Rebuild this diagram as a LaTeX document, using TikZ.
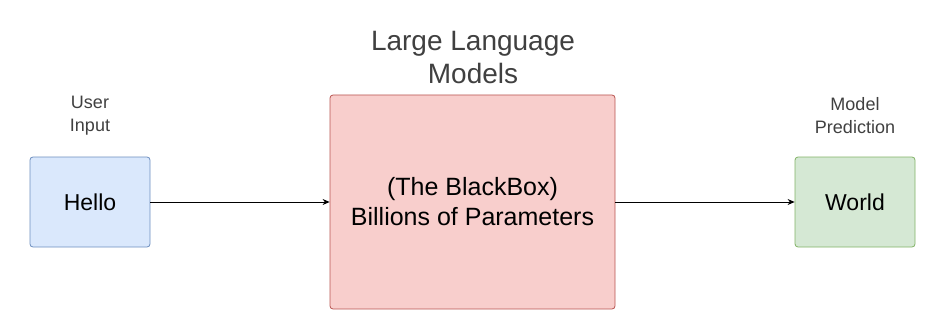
\documentclass[tikz,border=0pt]{standalone}
\usepackage{fontspec}
\setmainfont{Liberation Sans}
\usepackage{xcolor}
\usetikzlibrary{positioning,arrows.meta}
\definecolor{azulfill}{HTML}{DAE8FC}
\definecolor{azulline}{HTML}{6C8EBF}
\definecolor{rojofill}{HTML}{F8CECC}
\definecolor{rojoline}{HTML}{B85450}
\definecolor{verdefill}{HTML}{D5E8D4}
\definecolor{verdeline}{HTML}{82B366}
\definecolor{titulo}{HTML}{404040}

\begin{document}
\begin{tikzpicture}[x=1pt, y=1pt,
  caja/.style={draw, rectangle, rounded corners=3pt, line width=0.8pt, align=center, inner sep=0pt, font=\fontsize{23}{30}\selectfont},
  etiqueta/.style={align=center, text=titulo, font=\fontsize{18}{23}\selectfont},
  >={Stealth[length=7pt, width=6pt]}, line width=0.8pt
]
\useasboundingbox (0,0) rectangle (945,330);
\node[caja, fill=azulfill, draw=azulline, minimum width=120, minimum height=90]   (hola)   at (90,128)    {Hello};
\node[caja, fill=rojofill, draw=rojoline, minimum width=285, minimum height=214, font=\fontsize{25}{30}\selectfont]  (modelo) at (472.5,128) {(The BlackBox)\\Billions of Parameters};
\node[caja, fill=verdefill, draw=verdeline, minimum width=120, minimum height=90] (mundo)  at (855,128)   {World};
\node[etiqueta] (entrada)   at (90,214)  {User\\Input};
\node[etiqueta, font=\fontsize{28}{33}\selectfont] (titulo) at (473,272) {Large Language\\Models};
\node[etiqueta] (prediccion) at (855,214) {Model\\Prediction};

\draw[->] (hola) -- (modelo);
\draw[->] (modelo) -- (mundo);
\end{tikzpicture}
\end{document}
